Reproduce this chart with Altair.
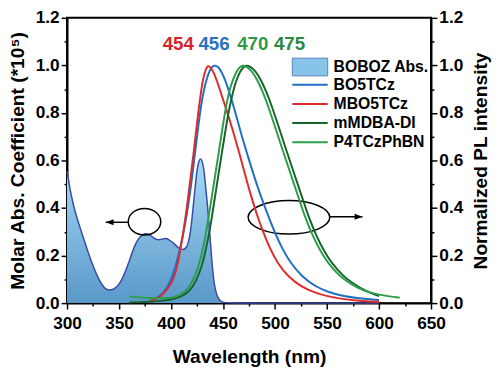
import altair as alt
import pandas as pd

# ---------------- data ----------------
# BOBOZ absorption (left axis, *10^5)
abs_wl = [300, 304, 308, 312, 316, 321, 326, 331, 336, 340, 345, 350, 355, 359, 365, 370,
          375, 379, 383, 387, 391, 395, 399, 403, 407, 411, 415, 417, 418.8, 420.5, 422,
          423.5, 425.2, 427, 428.3, 429.8, 431.5, 433, 434.6, 436, 437.2, 439.4, 441, 442.5,
          445, 448.8, 455, 500, 550, 600]
abs_val = [0.555, 0.45, 0.38, 0.325, 0.27, 0.205, 0.145, 0.095, 0.062, 0.053, 0.058, 0.075,
           0.12, 0.165, 0.245, 0.28, 0.295, 0.29, 0.275, 0.265, 0.268, 0.274, 0.264, 0.25,
           0.232, 0.222, 0.232, 0.26, 0.3, 0.37, 0.435, 0.5, 0.57, 0.6, 0.61, 0.6, 0.57, 0.5,
           0.435, 0.36, 0.3, 0.165, 0.1, 0.057, 0.02, 0.003, 0.0, 0.0, 0.0, 0.0]

# Normalized PL spectra (right axis)
bo5tcz_wl = [380, 387, 393, 397, 402, 406, 410, 414, 417.5, 420.4, 423.6, 426.8, 429, 431.5,
             434.5, 437.5, 440, 442.5, 445, 448, 451.5, 455.2, 460, 464.6, 469, 474, 478, 482,
             488, 494.5, 500, 507, 515, 526, 538, 551, 565, 580, 600]
bo5tcz_val = [0.01, 0.023, 0.045, 0.07, 0.12, 0.18, 0.252, 0.34, 0.438, 0.534, 0.652, 0.765,
              0.835, 0.895, 0.948, 0.982, 0.997, 1.0, 0.995, 0.978, 0.945, 0.9, 0.83, 0.759,
              0.688, 0.617, 0.56, 0.505, 0.43, 0.355, 0.295, 0.228, 0.168, 0.111, 0.072, 0.046,
              0.03, 0.02, 0.013]

mbo5tcz_wl = [379, 385, 390, 395, 400, 403, 406.2, 409.4, 412.6, 415.5, 418.3, 422, 425.2,
              428.3, 431, 433.5, 435.5, 438, 441, 444, 447.2, 452, 458.3, 466.1, 472.5, 477,
              482, 488, 494.5, 503, 513.4, 525, 538.7, 550, 565, 580, 600]
mbo5tcz_val = [0.007, 0.015, 0.028, 0.05, 0.08, 0.11, 0.158, 0.235, 0.32, 0.41, 0.51, 0.64,
               0.765, 0.875, 0.95, 0.985, 1.0, 0.993, 0.97, 0.937, 0.895, 0.83, 0.745, 0.624,
               0.52, 0.45, 0.38, 0.305, 0.235, 0.163, 0.108, 0.07, 0.043, 0.029, 0.017, 0.01,
               0.005]

mmdba_wl = [360, 370, 380, 390, 400, 410, 418, 424, 429.9, 434, 437.8, 441, 444.5, 448.8,
            453.5, 456.5, 459.9, 463, 466.5, 469.5, 472.5, 476, 480, 484, 488, 492, 496, 501,
            509, 518, 523, 527.6, 533, 540, 547, 554.5, 565, 576.5, 588, 600]
mmdba_val = [0.003, 0.004, 0.006, 0.009, 0.014, 0.027, 0.05, 0.09, 0.158, 0.235, 0.32, 0.41,
             0.51, 0.63, 0.759, 0.83, 0.895, 0.94, 0.975, 0.993, 1.0, 0.995, 0.982, 0.958,
             0.925, 0.885, 0.84, 0.775, 0.668, 0.55, 0.485, 0.425, 0.355, 0.28, 0.22, 0.168,
             0.115, 0.078, 0.048, 0.03]

p4tcz_wl = [360, 370, 380, 390, 398, 405, 411, 416, 421, 426.8, 431, 434.6, 438, 441.5, 445.7,
            450.4, 453, 456, 459.5, 463, 466, 469, 472.5, 476.5, 480.5, 484.5, 488.5, 492.5,
            497.5, 505.5, 514.5, 519.5, 524, 529.5, 536.5, 543.5, 551, 561.5, 573, 585, 600,
            610, 620]
p4tcz_val = [0.028, 0.024, 0.021, 0.02, 0.021, 0.027, 0.04, 0.058, 0.092, 0.158, 0.232, 0.32,
             0.412, 0.51, 0.63, 0.762, 0.83, 0.895, 0.94, 0.975, 0.993, 1.0, 0.995, 0.982,
             0.958, 0.925, 0.885, 0.84, 0.775, 0.668, 0.55, 0.485, 0.425, 0.355, 0.28, 0.22,
             0.168, 0.115, 0.08, 0.052, 0.035, 0.028, 0.023]

series_names = ["BO5TCz", "MBO5TCz", "mMDBA-DI", "P4TCzPhBN"]
abs_name = "BOBOZ Abs."

# peak annotations
peak_labels = ["454", "456", "470", "475"]
peak_label_wl = [407, 441.4, 478.6, 514]
peak_label_val = [1.09, 1.09, 1.09, 1.09]

# ellipse / arrow annotations (axis indicators)
ellipse_wl = [374.5, 513.4]
ellipse_val = [0.3425, 0.361]
arrow_from_wl = [359, 552.9]
arrow_to_wl = [337.2, 584.1]
arrow_val = [0.34, 0.363]

# ---------------- styles ----------------
FONT = "Liberation Sans"
series_colors = ["#1f6fc5", "#e02a2a", "#17652c", "#2a9e48"]
peak_colors = ["#d8232a", "#2a72bf", "#2e9a48", "#2b8a3e"]
abs_line_color = "#3b4ba6"
INTERP = "basis"

# ---------------- frames ----------------
abs_df = pd.DataFrame({"wl": abs_wl, "val": abs_val, "name": abs_name})
pl_df = pd.concat([
    pd.DataFrame({"wl": w, "val": v, "name": n})
    for w, v, n in [(bo5tcz_wl, bo5tcz_val, series_names[0]),
                    (mbo5tcz_wl, mbo5tcz_val, series_names[1]),
                    (mmdba_wl, mmdba_val, series_names[2]),
                    (p4tcz_wl, p4tcz_val, series_names[3])]
], ignore_index=True)
peak_df = pd.DataFrame({"wl": peak_label_wl, "val": peak_label_val, "label": peak_labels})
ell_df = pd.DataFrame({"wl": ellipse_wl, "val": ellipse_val})
arr_df = pd.DataFrame({"wl": arrow_from_wl, "wl2": arrow_to_wl, "val": arrow_val})
tip_df = pd.DataFrame({"wl": arrow_to_wl, "val": arrow_val})

# ---------------- axes ----------------
x_axis = alt.Axis(
    values=list(range(300, 651, 25)),
    labelExpr="datum.value % 50 == 0 ? datum.label : ''",
    format="d",
    tickSize={"condition": {"test": "datum.value % 50 == 0", "value": 6}, "value": 3},
    tickWidth=1.5, tickColor="black", domainWidth=2, domainColor="black",
    labelFont=FONT, labelFontSize=17.5, labelFontWeight="bold", labelColor="black",
    labelPadding=6, labelFlush=False, labelOverlap=False,
    title="Wavelength (nm)", titleFont=FONT, titleFontSize=19.5, titleFontWeight="bold",
    titleColor="black", titlePadding=16, grid=False,
)
y_vals = [round(i * 0.1, 1) for i in range(13)]
def y_axis(orient, title, tpad, **kw):
    return alt.Axis(
        orient=orient, values=y_vals,
        labelExpr="round(datum.value*10) % 2 == 0 ? format(datum.value, '.1f') : ''",
        tickSize={"condition": {"test": "round(datum.value*10) % 2 == 0", "value": 6}, "value": 3},
        tickWidth=1.5, tickColor="black", domainWidth=2, domainColor="black",
        labelFont=FONT, labelFontSize=17.5, labelFontWeight="bold", labelColor="black",
        labelPadding=2, labelOverlap=False,
        title=title, titleFont=FONT, titleFontSize=19.5, titleFontWeight="bold",
        titleColor="black", titlePadding=tpad, grid=False, **kw,
    )

xs = alt.Scale(domain=[300, 650], nice=False, zero=False)
ys = alt.Scale(domain=[0, 1.2], nice=False, zero=False)
X = alt.X("wl:Q", scale=xs, axis=x_axis)
YL = alt.Y("val:Q", scale=ys, axis=y_axis("left", "Molar Abs. Coefficient (*10\u2075)", 8))
YR = alt.Y("val:Q", scale=ys, axis=y_axis("right", "Normalized PL intensity", 9,
                                          titleAngle=270, titleBaseline="top"))

gradient = alt.Gradient(
    gradient="linear",
    stops=[alt.GradientStop(color="#a8dcf7", offset=0),
           alt.GradientStop(color="#5a98c9", offset=1)],
    x1=0, x2=0, y1=0, y2=1,
)

area_flat = alt.Chart(abs_df).mark_area(interpolate=INTERP).encode(
    x=X, y=YL,
    fill=alt.Fill("name:N", scale=alt.Scale(domain=[abs_name], range=["#86c4ea"]),
                  legend=alt.Legend(title=None, orient="none", legendX=239, legendY=42,
                                    symbolType="M-3,-1.5H3V1.5H-3Z", symbolSize=144,
                                    symbolStrokeColor="#5b7fbf", symbolStrokeWidth=1,
                                    symbolOpacity=1,
                                    labelFont=FONT, labelFontSize=16, labelFontWeight="bold",
                                    labelColor="black", labelOffset=16, padding=0)),
)
area_grad = alt.Chart(abs_df).mark_area(interpolate=INTERP, fill=gradient).encode(x=X, y=YL)
abs_line = alt.Chart(abs_df).mark_line(interpolate=INTERP, color=abs_line_color,
                                       strokeWidth=1.5).encode(x=X, y=YL)

peaks = alt.Chart(peak_df).mark_text(font=FONT, fontSize=19, fontWeight="bold",
                                     baseline="middle").encode(
    x=X, y=YL, text="label:N",
    color=alt.Color("label:N", scale=alt.Scale(domain=peak_labels, range=peak_colors), legend=None),
)

ell1 = alt.Chart(ell_df.iloc[[0]]).mark_point(
    shape="M-1,0C-1,-0.452,-0.552,-0.818,0,-0.818C0.552,-0.818,1,-0.452,1,0C1,0.452,0.552,0.818,0,0.818C-0.552,0.818,-1,0.452,-1,0Z",
    size=1089, filled=False, stroke="black", strokeWidth=1.5, opacity=1).encode(x=X, y=YL)
ell2 = alt.Chart(ell_df.iloc[[1]]).mark_point(
    shape="M-1,0C-1,-0.226,-0.552,-0.41,0,-0.41C0.552,-0.41,1,-0.226,1,0C1,0.226,0.552,0.41,0,0.41C-0.552,0.41,-1,0.226,-1,0Z",
    size=6889, filled=False, stroke="black", strokeWidth=1.5, opacity=1).encode(x=X, y=YL)
arrows = alt.Chart(arr_df).mark_rule(color="black", strokeWidth=1.5).encode(
    x=X, x2="wl2:Q", y=YL)
tip_left = alt.Chart(tip_df.iloc[[0]]).mark_point(
    shape="M0,0L2,-0.75L2,0.75Z", size=64, filled=True, color="black", opacity=1).encode(x=X, y=YL)
tip_right = alt.Chart(tip_df.iloc[[1]]).mark_point(
    shape="M0,0L-2,-0.75L-2,0.75Z", size=64, filled=True, color="black", opacity=1).encode(x=X, y=YL)

left = alt.layer(area_flat, area_grad, abs_line, peaks, ell1, ell2, arrows, tip_left, tip_right)

pl_lines = alt.Chart(pl_df).mark_line(interpolate=INTERP, strokeWidth=2).encode(
    x=X, y=YR,
    color=alt.Color("name:N", scale=alt.Scale(domain=series_names, range=series_colors),
                    legend=alt.Legend(title=None, orient="none", legendX=239, legendY=60,
                                      symbolType="M-3,0H3", symbolSize=144, symbolStrokeWidth=2,
                                      labelFont=FONT, labelFontSize=16, labelFontWeight="bold",
                                      labelColor="black", labelOffset=16, rowPadding=3.5,
                                      padding=0)),
)

chart = alt.layer(left, pl_lines).resolve_scale(y="independent", color="independent").properties(
    width=370, height=290,
    padding={"left": 60, "top": 7, "right": 62, "bottom": 65},
    autosize=alt.AutoSizeParams(type="none"),
).configure_view(stroke="black", strokeWidth=2)

chart.save("out.html", embed_options={"renderer": "svg", "actions": False})
